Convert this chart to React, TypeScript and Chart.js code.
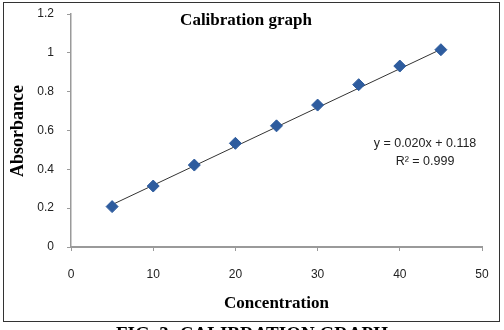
import React, { useEffect, useRef } from "react";
import { Chart, registerables } from "chart.js";

Chart.register(...registerables);

const concentration = [5, 10, 15, 20, 25, 30, 35, 40, 45];
const absorbance = [0.208, 0.314, 0.422, 0.534, 0.624, 0.731, 0.836, 0.932, 1.016];
const slope = 0.02;
const intercept = 0.118;
const trendX = [5, 45];
const xTicks = [0, 10, 20, 30, 40, 50];
const yTicks = [0, 0.2, 0.4, 0.6, 0.8, 1, 1.2];

const chartTitle = "Calibration graph";
const xTitle = "Concentration";
const yTitle = "Absorbance";
const equationText = "y = 0.020x + 0.118";
const r2Text = "R² = 0.999";
const caption = "FIG. 3: CALIBRATION GRAPH";

const overlay = {
  id: "overlay",
  afterDraw(chart: any) {
    const ctx = chart.ctx;
    const ca = chart.chartArea;
    ctx.save();
    ctx.strokeStyle = "#333";
    ctx.lineWidth = 1;
    ctx.strokeRect(3.5, 2.5, 496, 319);
    ctx.fillStyle = "#000";
    ctx.textAlign = "center";
    ctx.textBaseline = "middle";
    ctx.font = "bold 17px 'Liberation Serif', serif";
    ctx.fillText(chartTitle, 246, 21);
    ctx.fillText(xTitle, (ca.left + ca.right) / 2, 304);
    ctx.save();
    ctx.translate(18, 131);
    ctx.rotate(-Math.PI / 2);
    ctx.font = "bold 18px 'Liberation Serif', serif";
    ctx.fillText(yTitle, 0, 0);
    ctx.restore();
    ctx.font = "12.5px 'Liberation Sans', sans-serif";
    ctx.fillStyle = "#222";
    ctx.fillText(equationText, 425, 144);
    ctx.fillText(r2Text, 425, 162);
    ctx.fillStyle = "#000";
    ctx.textBaseline = "alphabetic";
    ctx.font = "bold 19px 'Liberation Serif', serif";
    ctx.fillText(caption, 252, 340);
    ctx.restore();
  },
};

export default function App() {
  const ref = useRef<HTMLCanvasElement>(null);
  useEffect(() => {
    if (!ref.current) return;
    const chart = new Chart(ref.current, {
      type: "scatter",
      data: {
        datasets: [
          {
            label: "Absorbance",
            data: concentration.map((x, i) => ({ x, y: absorbance[i] })),
            pointStyle: "rectRot",
            pointRadius: 6,
            backgroundColor: "#2E5C9E",
            borderColor: "#2E5C9E",
            borderWidth: 1,
            order: 1,
          },
          {
            label: "Trend",
            type: "line",
            data: trendX.map((x) => ({ x, y: slope * x + intercept })),
            borderColor: "#333",
            borderWidth: 1,
            pointRadius: 0,
            showLine: true,
            fill: false,
            order: 2,
          } as any,
        ],
      },
      options: {
        animation: false,
        responsive: false,
        maintainAspectRatio: false,
        layout: { padding: { left: 0, top: 14, right: 22, bottom: 0 } },
        plugins: {
          legend: { display: false },
          tooltip: { enabled: false },
          title: { display: false },
        },
        scales: {
          x: {
            type: "linear",
            min: 0,
            max: 50,
            afterFit: (s: any) => {
              s.height = 83;
              s.paddingLeft = 0;
              s.paddingRight = 0;
            },
            afterBuildTicks: (s: any) => {
              s.ticks = xTicks.map((v) => ({ value: v }));
            },
            grid: {
              drawOnChartArea: false,
              tickLength: 4,
              color: "#9a9a9a",
            },
            border: { color: "#9a9a9a", width: 2 },
            ticks: {
              padding: 16,
              color: "#222",
              font: { family: "'Liberation Sans', sans-serif", size: 12 },
              callback: (v: any) => String(v),
            },
          },
          y: {
            type: "linear",
            min: 0,
            max: 1.2,
            afterFit: (s: any) => {
              s.width = 71;
              s.paddingTop = 0;
              s.paddingBottom = 0;
            },
            afterBuildTicks: (s: any) => {
              s.ticks = yTicks.map((v) => ({ value: v }));
            },
            grid: {
              drawOnChartArea: false,
              tickLength: 4,
              color: "#9a9a9a",
            },
            border: { color: "#9a9a9a", width: 1.5 },
            ticks: {
              padding: 13,
              color: "#222",
              font: { family: "'Liberation Sans', sans-serif", size: 12 },
              callback: (v: any) => String(Math.round(Number(v) * 10) / 10),
            },
          },
        },
      },
      plugins: [overlay],
    });
    return () => chart.destroy();
  }, []);
  return (
    <div style={{ position: "absolute", left: 0, top: 0, width: 504, height: 330, background: "#fff" }}>
      <canvas ref={ref} width={504} height={330} style={{ display: "block", width: 504, height: 330 }} />
    </div>
  );
}
